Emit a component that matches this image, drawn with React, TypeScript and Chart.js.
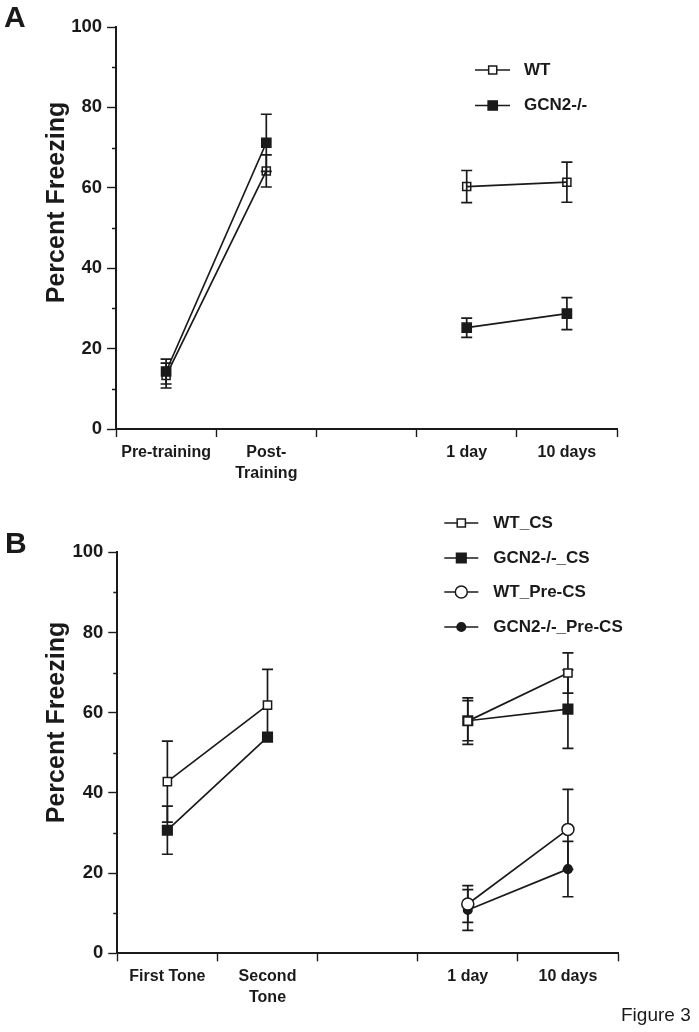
import React, { useEffect, useRef } from 'react';
import { Chart, registerables } from 'chart.js';

Chart.register(...registerables);

const FONT = '"Liberation Sans", Arial, Helvetica, sans-serif';
const INK = '#1a1a1a';

// ---------- data ----------
const yMinorTicks = [10, 30, 50, 70, 90];
const yAxisTitle = 'Percent Freezing';

const categoriesA: (string | string[])[] = ['Pre-training', ['Post-', 'Training'], '', '1 day', '10 days'];
const wtA = [13.3, 64.2, null, 60.3, 61.4];
const wtAErr = [3.1, 4, null, 4, 5];
const gcnA = [14.3, 71.2, null, 25.2, 28.7];
const gcnAErr = [3.1, 7.1, null, 2.4, 4];

const categoriesB: (string | string[])[] = ['First Tone', ['Second', 'Tone'], '', '1 day', '10 days'];
const wtCS = [42.8, 61.9, null, 57.9, 69.9];
const wtCSErr = [10.1, 8.9, null, 5.8, 5];
const gcnCS = [30.7, 53.9, null, 58, 60.9];
const gcnCSErr = [6, null, null, 5, 9.8];
const wtPreCS = [null, null, null, 12.3, 30.9];
const wtPreCSErr = [null, null, null, 4.6, 10];
const gcnPreCS = [null, null, null, 10.8, 21];
const gcnPreCSErr = [null, null, null, 5.1, 6.9];

// ---------- plugins ----------
const errorBarPlugin = {
  id: 'errorBars',
  beforeDatasetsDraw(chart: any) {
    const ctx = chart.ctx;
    const y = chart.scales.y;
    chart.data.datasets.forEach((ds: any, i: number) => {
      const errs = ds.errors;
      if (!errs) return;
      const meta = chart.getDatasetMeta(i);
      meta.data.forEach((pt: any, j: number) => {
        const v = ds.data[j];
        const e = errs[j];
        if (v == null || e == null) return;
        const x = pt.x;
        const yt = y.getPixelForValue(v + e);
        const yb = y.getPixelForValue(v - e);
        ctx.save();
        ctx.strokeStyle = INK;
        ctx.lineWidth = 1.7;
        ctx.beginPath();
        ctx.moveTo(x, yt);
        ctx.lineTo(x, yb);
        ctx.moveTo(x - 5.5, yt);
        ctx.lineTo(x + 5.5, yt);
        ctx.moveTo(x - 5.5, yb);
        ctx.lineTo(x + 5.5, yb);
        ctx.stroke();
        ctx.restore();
      });
    });
  },
};

function drawMarker(ctx: CanvasRenderingContext2D, style: string, x: number, y: number, r: number, fill: string, stroke: string, lw: number) {
  ctx.beginPath();
  if (style === 'rect') {
    const s = r * Math.SQRT1_2;
    ctx.rect(x - s, y - s, 2 * s, 2 * s);
  } else {
    ctx.arc(x, y, r, 0, Math.PI * 2);
  }
  ctx.fillStyle = fill;
  ctx.fill();
  ctx.lineWidth = lw;
  ctx.strokeStyle = stroke;
  ctx.stroke();
}

const decorPlugin = {
  id: 'decor',
  afterDraw(chart: any, _args: any, opts: any) {
    const ctx: CanvasRenderingContext2D = chart.ctx;
    const y = chart.scales.y;
    const left = chart.chartArea.left;
    ctx.save();
    // minor ticks
    ctx.strokeStyle = INK;
    ctx.lineWidth = 1.4;
    ctx.beginPath();
    yMinorTicks.forEach((v) => {
      const py = Math.round(y.getPixelForValue(v)) + 0.5;
      ctx.moveTo(left - 4, py);
      ctx.lineTo(left, py);
    });
    ctx.stroke();

    // axis title
    ctx.fillStyle = INK;
    ctx.save();
    ctx.translate(opts.titleX, opts.titleY);
    ctx.rotate(-Math.PI / 2);
    ctx.font = `bold 25px ${FONT}`;
    ctx.textAlign = 'center';
    ctx.textBaseline = 'alphabetic';
    ctx.fillText(yAxisTitle, 0, 0);
    ctx.restore();

    // panel letter
    ctx.font = `bold 30px ${FONT}`;
    ctx.textAlign = 'left';
    ctx.textBaseline = 'alphabetic';
    ctx.fillText(opts.letter, opts.letterX, opts.letterY);

    // legend
    chart.data.datasets.forEach((ds: any, i: number) => {
      const ry = opts.legendRows[i];
      ctx.strokeStyle = INK;
      ctx.lineWidth = 1.7;
      ctx.beginPath();
      ctx.moveTo(opts.legendX0, ry);
      ctx.lineTo(opts.legendX1, ry);
      ctx.stroke();
      const fill = ds.pointBackgroundColor === 'transparent' ? '#ffffff' : ds.pointBackgroundColor;
      drawMarker(ctx, ds.pointStyle, opts.legendMarkerX, ry, ds.pointRadius, fill, INK, ds.pointBorderWidth);
      ctx.fillStyle = INK;
      ctx.font = `bold 17px ${FONT}`;
      ctx.textAlign = 'left';
      ctx.textBaseline = 'middle';
      ctx.fillText(ds.label, opts.legendTextX, ry);
    });

    if (opts.footnote) {
      ctx.font = `19px ${FONT}`;
      ctx.textAlign = 'left';
      ctx.textBaseline = 'alphabetic';
      ctx.fillText(opts.footnote, opts.footX, opts.footY);
    }
    ctx.restore();
  },
};

function makeDataset(label: string, data: any[], errors: any[], style: string, radius: number, fill: string) {
  return {
    label,
    data,
    errors,
    borderColor: INK,
    borderWidth: 1.7,
    pointStyle: style,
    pointRadius: radius,
    pointHoverRadius: radius,
    pointBackgroundColor: fill,
    pointBorderColor: INK,
    pointBorderWidth: 1.5,
    spanGaps: false,
    tension: 0,
    fill: false,
  };
}

function makeOptions(p: { padTop: number; padRight: number; yWidth: number; xHeight: number; decor: any }) {
  return {
    responsive: false,
    animation: false as const,
    layout: { padding: { top: p.padTop, right: p.padRight, bottom: 0, left: 0 } },
    plugins: {
      legend: { display: false },
      tooltip: { enabled: false },
      decor: p.decor,
    },
    scales: {
      x: {
        type: 'category' as const,
        offset: true,
        grid: { offset: true, drawOnChartArea: false, drawTicks: true, tickLength: 8, tickColor: INK, tickWidth: 1.4 },
        border: { display: true, color: INK, width: 2 },
        ticks: {
          color: INK,
          font: { family: FONT, size: 16, weight: 'bold' as const, lineHeight: 1.3 },
          padding: 5,
          autoSkip: false,
          maxRotation: 0,
          minRotation: 0,
        },
        afterFit: (s: any) => {
          s.height = p.xHeight;
        },
      },
      y: {
        min: 0,
        max: 100,
        grid: { drawOnChartArea: false, drawTicks: true, tickLength: 9, tickColor: INK, tickWidth: 1.4 },
        border: { display: true, color: INK, width: 2 },
        ticks: {
          stepSize: 20,
          color: INK,
          font: { family: FONT, size: 18.5, weight: 'bold' as const },
          padding: 5,
        },
        afterFit: (s: any) => {
          s.width = p.yWidth;
        },
      },
    },
  };
}

function PanelA() {
  const ref = useRef<HTMLCanvasElement>(null);
  useEffect(() => {
    if (!ref.current) return;
    const chart = new Chart(ref.current, {
      type: 'line',
      data: {
        labels: categoriesA as any,
        datasets: [
          makeDataset('WT', wtA, wtAErr, 'rect', 5.7, 'transparent'),
          makeDataset('GCN2-/-', gcnA, gcnAErr, 'rect', 6.5, INK),
        ] as any,
      },
      options: makeOptions({
        padTop: 27,
        padRight: 82,
        yWidth: 116,
        xHeight: 61,
        decor: {
          titleX: 64,
          titleY: 202.5,
          letter: 'A',
          letterX: 4,
          letterY: 27,
          legendRows: [70, 105.5],
          legendX0: 475,
          legendX1: 510,
          legendMarkerX: 492.7,
          legendTextX: 524,
        },
      }) as any,
      plugins: [errorBarPlugin, decorPlugin],
    });
    return () => chart.destroy();
  }, []);
  return <canvas ref={ref} width={699} height={490} style={{ position: 'absolute', left: 0, top: 0, width: 699, height: 490 }} />;
}

function PanelB() {
  const ref = useRef<HTMLCanvasElement>(null);
  useEffect(() => {
    if (!ref.current) return;
    const chart = new Chart(ref.current, {
      type: 'line',
      data: {
        labels: categoriesB as any,
        datasets: [
          makeDataset('WT_CS', wtCS, wtCSErr, 'rect', 5.8, '#ffffff'),
          makeDataset('GCN2-/-_CS', gcnCS, gcnCSErr, 'rect', 6.8, INK),
          makeDataset('WT_Pre-CS', wtPreCS, wtPreCSErr, 'circle', 6, '#ffffff'),
          makeDataset('GCN2-/-_Pre-CS', gcnPreCS, gcnPreCSErr, 'circle', 4.3, INK),
        ] as any,
      },
      options: makeOptions({
        padTop: 62.3,
        padRight: 81,
        yWidth: 117.3,
        xHeight: 78.7,
        decor: {
          titleX: 64,
          titleY: 232.5,
          letter: 'B',
          letterX: 5,
          letterY: 63,
          legendRows: [33, 68, 102, 137],
          legendX0: 444.3,
          legendX1: 478.3,
          legendMarkerX: 461.3,
          legendTextX: 493.3,
          footnote: 'Figure 3',
          footX: 621,
          footY: 531,
        },
      }) as any,
      plugins: [errorBarPlugin, decorPlugin],
    });
    return () => chart.destroy();
  }, []);
  return <canvas ref={ref} width={699} height={542} style={{ position: 'absolute', left: 0, top: 490, width: 699, height: 542 }} />;
}

export default function App() {
  return (
    <div style={{ position: 'absolute', left: 0, top: 0, width: 699, height: 1032, background: '#ffffff', overflow: 'hidden' }}>
      <PanelA />
      <PanelB />
    </div>
  );
}
